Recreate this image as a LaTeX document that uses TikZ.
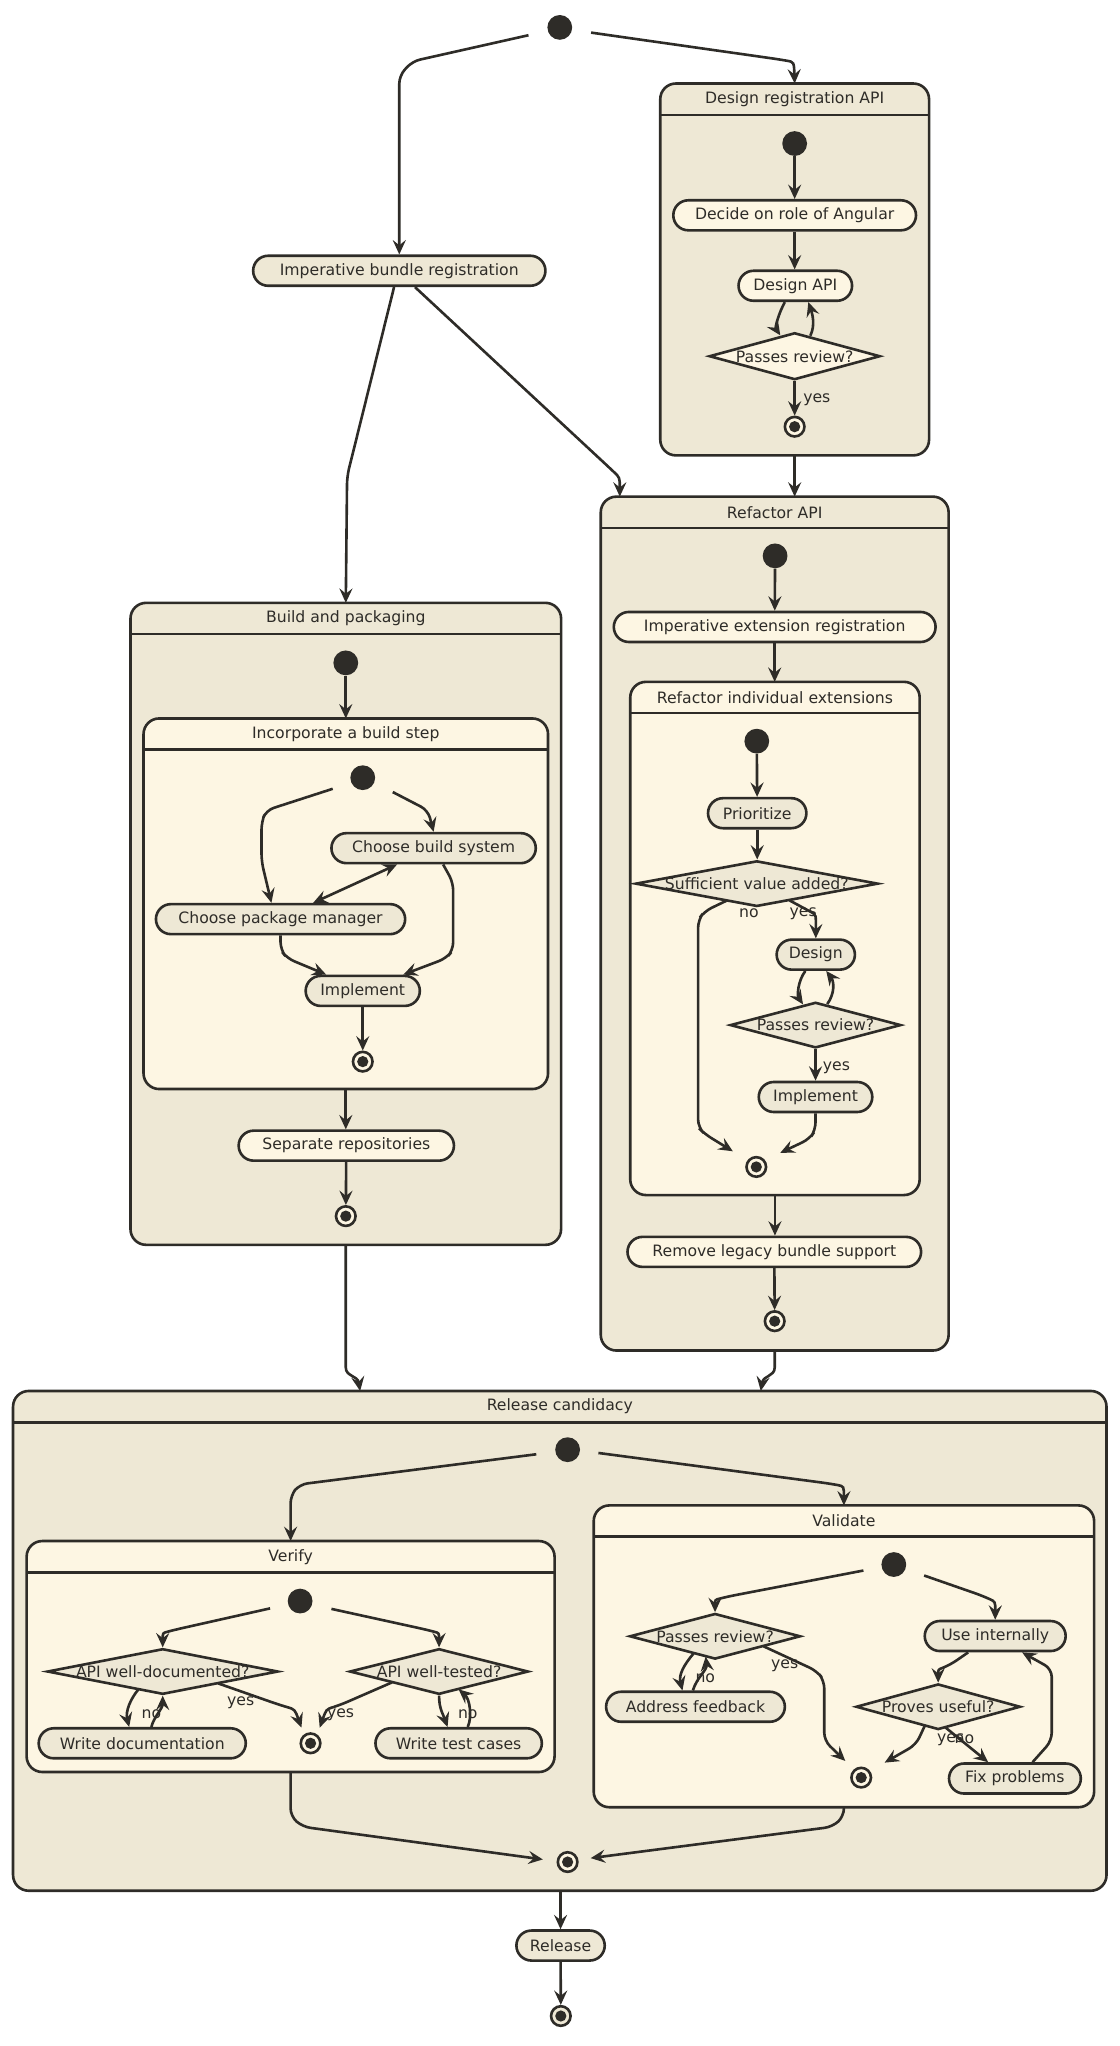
\documentclass[tikz,border=0pt]{standalone}
\usepackage{fontspec}
\setmainfont{DejaVu Sans}
\usetikzlibrary{arrows.meta,shapes.geometric,calc}
\definecolor{dk}{HTML}{2E2C28}
\definecolor{bgA}{HTML}{EEE8D5}
\definecolor{bgB}{HTML}{FDF6E3}
\begin{document}
\begin{tikzpicture}[x=1pt,y=-1pt,
 every node/.style={font=\fontsize{12}{14}\selectfont, text=dk},
 line/.style={draw=dk, line width=2pt},
 tipv/.tip={Stealth[length=11pt,width=10pt,inset=4pt]},
 arr/.style={line, -tipv, rounded corners=6pt},
 darr/.style={line, tipv-tipv},
 act/.style={rectangle, rounded corners=11.5pt, draw=dk, line width=2pt, minimum height=23pt, inner sep=0pt},
 actB/.style={act, fill=bgA},
 actC/.style={act, fill=bgB},
 dec/.style={diamond, draw=dk, line width=2pt, inner sep=0pt, minimum height=35pt},
 sdot/.style={circle, fill=dk, minimum size=19pt, inner sep=0pt},
 edot/.style={circle, draw=dk, line width=2pt, minimum size=15pt, inner sep=0pt,
   path picture={\fill[dk] (path picture bounding box.center) circle (4.3pt);}},
 clu/.style={rectangle, rounded corners=12pt, draw=dk, line width=2pt, inner sep=0pt, outer sep=0pt},
 lbl/.style={inner sep=0pt},
]
\useasboundingbox (0,0) rectangle (858.3,1568);

% ---------- clusters ----------
\node[clu, fill=bgA, minimum width=206pt, minimum height=285pt] (dra) at (609,206.5) {};
\node[clu, fill=bgA, minimum width=330pt, minimum height=492pt] (bp) at (265,708) {};
\node[clu, fill=bgB, minimum width=310pt, minimum height=284pt] (inc) at (265,692.6) {};
\node[clu, fill=bgA, minimum width=266.6pt, minimum height=654.4pt] (ref) at (593.7,707.8) {};
\node[clu, fill=bgB, minimum width=221.8pt, minimum height=393.3pt] (rie) at (593.9,719.2) {};
\node[clu, fill=bgA, minimum width=838pt, minimum height=383pt] (rc) at (429,1257.5) {};
\node[clu, fill=bgB, minimum width=404.6pt, minimum height=177pt] (ver) at (222.7,1269.5) {};
\node[clu, fill=bgB, minimum width=383.5pt, minimum height=231.3pt] (val) at (646.75,1269.35) {};
\foreach \c in {dra,bp,inc,ref,rie,rc,ver,val}
  \draw[line] ($(\c.north west)+(0,24)$) -- ($(\c.north east)+(0,24)$);
\node[lbl] (dra_t) at ($(dra.north)+(0,12)$) {Design registration API};
\node[lbl] (bp_t) at ($(bp.north)+(0,12)$) {Build and packaging};
\node[lbl] (inc_t) at ($(inc.north)+(0,12)$) {Incorporate a build step};
\node[lbl] (ref_t) at ($(ref.north)+(0,12)$) {Refactor API};
\node[lbl] (rie_t) at ($(rie.north)+(0,12)$) {Refactor individual extensions};
\node[lbl] (rc_t) at ($(rc.north)+(0,12)$) {Release candidacy};
\node[lbl] (ver_t) at ($(ver.north)+(0,12)$) {Verify};
\node[lbl] (val_t) at ($(val.north)+(0,12)$) {Validate};

% ---------- actions ----------
\node[actB, minimum width=224pt] (ibr) at (306,207.5) {Imperative bundle registration};
\node[actC, minimum width=186pt] (dra_a) at (609,165) {Decide on role of Angular};
\node[actC, minimum width=87pt] (dapi) at (609.5,219) {Design API};
\node[actC, minimum width=246.6pt] (iext) at (593.7,480.5) {Imperative extension registration};
\node[actB, minimum width=75.4pt] (prio) at (580.3,623.2) {Prioritize};
\node[actB, minimum width=60pt] (design) at (625.2,731.6) {Design};
\node[actB, minimum width=87pt] (impl2) at (625,840.7) {Implement};
\node[actC, minimum width=225pt] (remove) at (593.4,959.4) {Remove legacy bundle support};
\node[actB, minimum width=156.6pt] (cbs) at (332.3,650) {Choose build system};
\node[actB, minimum width=191pt] (cpm) at (215,704.4) {Choose package manager};
\node[actB, minimum width=87.5pt] (impl1) at (278,759.4) {Implement};
\node[actC, minimum width=165pt] (sep) at (265.4,878) {Separate repositories};
\node[actB, minimum width=158.7pt] (wdoc) at (109,1336) {Write documentation};
\node[actB, minimum width=127.5pt] (wtest) at (351.5,1336) {Write test cases};
\node[actB, minimum width=137pt] (addr) at (533,1308) {Address feedback};
\node[actB, minimum width=108pt] (useint) at (762.7,1253.8) {Use internally};
\node[actB, minimum width=101pt] (fix) at (777.8,1363) {Fix problems};
\node[actB, minimum width=67.7pt] (release) at (429.6,1491) {Release};

% ---------- decisions ----------
\node[dec, fill=bgB, minimum width=131pt, minimum height=36pt] (d_dra) at (609,273) {};
\node[dec, fill=bgA, minimum width=186pt] (d_suff) at (580,677.2) {};
\node[dec, fill=bgA, minimum width=131pt] (d_pr2) at (625,785.6) {};
\node[dec, fill=bgA, minimum width=177pt] (d_doc) at (124.7,1281) {};
\node[dec, fill=bgA, minimum width=137pt] (d_test) at (336.5,1281) {};
\node[dec, fill=bgA, minimum width=131pt] (d_val) at (548,1254) {};
\node[dec, fill=bgA, minimum width=126pt] (d_use) at (719,1308) {};
\node[lbl] (d_dra_t) at (d_dra) {Passes review?};
\node[lbl] (d_suff_t) at (d_suff) {Sufficient value added?};
\node[lbl] (d_pr2_t) at (d_pr2) {Passes review?};
\node[lbl] (d_doc_t) at (d_doc) {API well-documented?};
\node[lbl] (d_test_t) at (d_test) {API well-tested?};
\node[lbl] (d_val_t) at (d_val) {Passes review?};
\node[lbl] (d_use_t) at (d_use) {Proves useful?};

% ---------- start / end ----------
\node[sdot] (s0) at (429,21) {};
\node[sdot] (s_dra) at (609,110) {};
\node[sdot] (s_bp) at (265,508) {};
\node[sdot] (s_inc) at (278,596) {};
\node[sdot] (s_ref) at (594,426) {};
\node[sdot] (s_rie) at (580,568) {};
\node[sdot] (s_rc) at (435,1111) {};
\node[sdot] (s_ver) at (230,1227) {};
\node[sdot] (s_val) at (685,1199) {};
\node[edot, fill=bgB] (e_dra) at (609,327) {};
\node[edot, fill=bgB] (e_inc) at (278,813.6) {};
\node[edot, fill=bgB] (e_bp) at (265,932) {};
\node[edot, fill=bgB] (e_rie) at (579.6,894.3) {};
\node[edot, fill=bgB] (e_ref) at (593.7,1012.5) {};
\node[edot, fill=bgB] (e_ver) at (238,1336) {};
\node[edot, fill=bgB] (e_val) at (660,1362.3) {};
\node[edot, fill=bgB] (e_rc) at (435,1427) {};
\node[edot, fill=bgA] (e_top) at (429.8,1545) {};

% ---------- labels ----------
\node[lbl] (l1) at (626,306) {yes};
\node[lbl] (l2) at (574,700) {no};
\node[lbl] (l3) at (615.5,700) {yes};
\node[lbl] (l4) at (641,818.5) {yes};
\node[lbl] (l5) at (116,1314) {no};
\node[lbl] (l6) at (184.5,1305) {yes};
\node[lbl] (l7) at (261,1314) {yes};
\node[lbl] (l8) at (358.5,1314) {no};
\node[lbl] (l9) at (540.5,1286) {no};
\node[lbl] (l10) at (601.4,1276.8) {yes};
\node[lbl, anchor=west] (l11) at (718,1333) {yes};
\node[lbl, anchor=west] (l12) at (731.4,1333) {no};

% ---------- edges: top ----------
\draw[arr] ([shift={(-24,6)}]s0.center) -- (316,47) -- (306,58) -- (ibr.north);
\draw[arr] ([shift={(24,4)}]s0.center) -- (597,45.5) .. controls (608.5,47.5) .. (dra.north);

% design registration API
\draw[arr] (s_dra) -- (dra_a);
\draw[arr] (dra_a.south) -- (dra_a.south |- dapi.north);
\draw[arr] ($(dapi.south)+(-8,0)$) .. controls ($(dapi.south)+(-13,9)$) and ($(d_dra.north)+(-15,-3)$) .. ($(d_dra.north)+(-11,3)$);
\draw[arr] ($(d_dra.north)+(12,3.3)$) .. controls ($(d_dra.north)+(16,-5)$) and ($(dapi.south)+(13,9)$) .. ($(dapi.south)+(10,0)$);
\draw[arr] (d_dra.south) -- (e_dra);
\draw[arr] (dra.south) -- (dra.south |- ref.north);

% imperative bundle registration
\draw[arr] ([xshift=-4pt]ibr.south) -- (266,365) -- (bp.north);
\draw[arr] ([xshift=12pt]ibr.south) -- (466,357.5) .. controls (475,366) .. (ref.north -| 475,0);

% build and packaging
\draw[arr] (s_bp) -- (inc.north);
\draw[arr] ([shift={(-23,8.5)}]s_inc.center) -- (204,621) -- (200.4,630) -- (200.4,660) -- ($(cpm.north)+(-7,0)$);
\draw[arr] ([shift={(23,11)}]s_inc.center) -- (328,621) -- (cbs.north);
\draw[darr] ($(cpm.north)+(25,0)$) -- ($(cbs.south)+(-28,0)$);
\draw[arr] (cpm.south) -- (215,728) -- (220,734.4) -- ($(impl1.north)+(-28,0)$);
\draw[arr] ($(cbs.south)+(7.3,0)$) -- (347.3,676.4) -- (347.3,728) -- (342,734.4) -- ($(impl1.north)+(31,0)$);
\draw[arr] (impl1) -- (e_inc);
\draw[arr] (inc.south) -- (inc.south |- sep.north);
\draw[arr] (sep) -- (e_bp);
\draw[arr] (bp.south) -- (265,1042) .. controls (265,1055) and (274,1054) .. (rc.north -| 276,0);

% refactor API
\draw[arr] (s_ref) -- (iext);
\draw[arr] (iext.south) -- (iext.south |- rie.north);
\draw[arr] (s_rie) -- (prio);
\draw[arr] (prio.south) -- (prio.south |- d_suff.north);
\draw[arr] ($(d_suff.center)+(-23.3,13.1)$) -- (540,698.3) -- (535,705) -- (535,864) -- (540,869) -- ($(e_rie)+(-18,-12)$);
\draw[arr] ($(d_suff.center)+(25,12.8)$) -- (618,697) .. controls (625.3,701) .. (design.north);
\draw[arr] ($(design.south)+(-8,0)$) .. controls ($(design.south)+(-14,8)$) and ($(d_pr2.north)+(-14,-4)$) .. ($(d_pr2.north)+(-9.6,2.6)$);
\draw[arr] ($(d_pr2.north)+(9,2.4)$) .. controls ($(d_pr2.north)+(15,-6)$) and ($(design.south)+(14,8)$) .. ($(design.south)+(8,0)$);
\draw[arr] (d_pr2.south) -- (impl2.north);
\draw[arr] (impl2.south) -- (625,866) -- (620.5,872.8) -- ($(e_rie)+(18.4,-10.8)$);
\draw[arr] (rie.south) -- (rie.south |- remove.north);
\draw[arr] (remove) -- (e_ref);
\draw[arr] (ref.south) -- (593.7,1042) .. controls (593.7,1055) and (585,1054) .. (rc.north -| 583,0);

% release candidacy
\draw[arr] ([shift={(-24,3.5)}]s_rc.center) -- (229.6,1137.6) -- (222.7,1146) -- (ver.north);
\draw[arr] ([shift={(23.6,2.5)}]s_rc.center) -- (636,1137) .. controls (646.75,1139) .. (val.north);
\draw[arr] (ver.south) -- (222.7,1392) -- (232,1400) -- ($(e_rc)+(-19,-2)$);
\draw[arr] (val.south) -- (646.75,1392) -- (638,1400) -- ($(e_rc)+(17.7,-3)$);
\draw[arr] (rc.south -| release) -- (release.north);
\draw[arr] (release) -- (e_top);

% verify
\draw[arr] ([shift={(-23,5.6)}]s_ver.center) -- (134,1249) .. controls (124.7,1251.5) .. (d_doc.north);
\draw[arr] ([shift={(24,6)}]s_ver.center) -- (327,1249) .. controls (336.5,1251.5) .. (d_test.north);
\draw[arr] ($(d_doc.center)+(-18.7,13.8)$) .. controls ($(d_doc.center)+(-24.7,21)$) and ($(wdoc.north)+(-13,-12)$) .. ($(wdoc.north)+(-10,0)$);
\draw[arr] ($(wdoc.north)+(7,0)$) .. controls ($(wdoc.north)+(9,-8)$) and ($(d_doc.south)+(0,10)$) .. (d_doc.south);
\draw[arr] ($(d_doc.center)+(42.5,9.1)$) -- (214,1306.5) .. controls (226,1310) .. ($(e_ver)+(-7,-12)$);
\draw[arr] ($(d_test.center)+(-36,8.3)$) -- (261,1306.5) .. controls (250,1310) .. ($(e_ver)+(7,-12)$);
\draw[arr] (d_test.south) .. controls ($(d_test.south)+(0,10)$) and ($(wtest.north)+(-12,-10)$) .. ($(wtest.north)+(-8.5,0)$);
\draw[arr] ($(wtest.north)+(7,0)$) .. controls ($(wtest.north)+(10.5,-8)$) and ($(d_test.center)+(23.5,21)$) .. ($(d_test.center)+(15,13.7)$);

% validate
\draw[arr] ([shift={(-23.3,4.6)}]s_val.center) -- (558,1223.5) .. controls (548,1226) .. (d_val.north);
\draw[arr] ([shift={(23.2,8.4)}]s_val.center) -- (753,1223) .. controls (762.8,1227.5) .. (useint.north);
\draw[arr] ($(d_val.center)+(-16.4,13.1)$) .. controls ($(d_val.center)+(-24,22)$) and ($(addr.north)+(-13,-12)$) .. ($(addr.north)+(-10,0)$);
\draw[arr] ($(addr.north)+(-2,0)$) .. controls ($(addr.north)+(1,-10)$) and ($(d_val.center)+(-6,26)$) .. ($(d_val.center)+(-7.2,15.6)$);
\draw[arr] ($(d_val.center)+(37,7.6)$) -- (626,1280.6) -- (631.7,1288) -- (631.7,1334) -- ($(e_val)+(-12.2,-12.8)$);
\draw[arr] ($(useint.south)+(-20.7,0)$) -- (728,1276) .. controls (719,1279.5) .. (d_use.north);
\draw[arr] ($(d_use.center)+(-10.3,14.6)$) -- (702,1337) -- ($(e_val)+(18,-11.5)$);
\draw[arr] ($(d_use.center)+(5.6,15.9)$) -- ($(fix.north)+(-20.5,0)$);
\draw[arr] ($(fix.north)+(13.5,0)$) -- (806,1334) -- (806,1279) -- ($(useint.south)+(20.6,0)$);
\end{tikzpicture}
\end{document}
